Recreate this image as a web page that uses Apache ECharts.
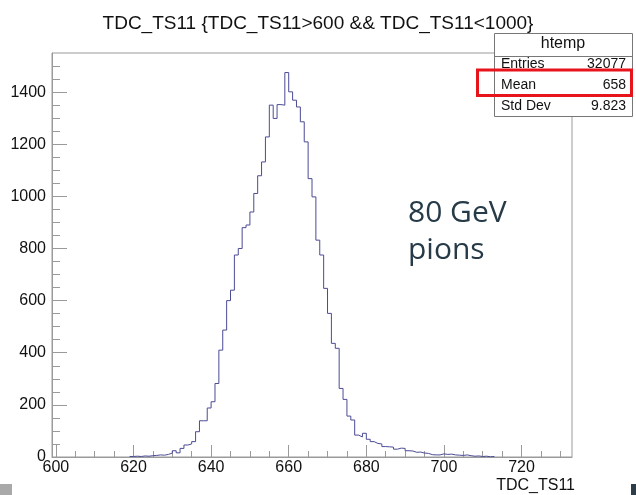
<!DOCTYPE html>
<html><head><meta charset="utf-8">
<script src="https://cdn.jsdelivr.net/npm/echarts@6/dist/echarts.min.js"></script>
<style>html,body{margin:0;padding:0;background:#fff}#c{width:636px;height:495px}</style>
</head><body><div id="c"></div>
<script>
const chartTitle = 'TDC_TS11 {TDC_TS11>600 && TDC_TS11<1000}';
const xAxisTitle = 'TDC_TS11';
const firstBin = 619;   // left edge of first listed bin, bin width 1
const counts = [
  2, 3, 2, 4, 3, 5, 6,                   // 619-625
  8, 7, 10, 15, 24, 16, 33, 46, 50, 59,  // 626-635
  97, 139, 139, 188, 212, 282, 410, 487, 600, 640, // 636-645
  775, 800, 880, 890, 940, 1011, 1079, 1132, 1228, 1350, // 646-655
  1299, 1352, 1350, 1475, 1401, 1369, 1343, 1286, 1209, 1068, // 656-665
  998, 832, 775, 647, 551, 436, 417, 263, 221, 157, // 666-675
  142, 84, 77, 91, 68, 59, 52, 50, 40, 39, // 676-685
  38, 30, 34, 33, 24, 23, 18, 19, 15, 14, // 686-695
  9, 8, 8, 12, 10, 11, 8, 7, 6, 8,        // 696-705
  5, 3, 4, 2, 3, 1, 2                     // 706-712
];
const xMajorTicks = [600, 620, 640, 660, 680, 700, 720];
const xMinorTicks = [600,605,610,615,620,625,630,635,640,645,650,655,660,665,670,675,680,685,690,695,700,705,710,715,720,725,730];
const yMajorTicks = [0, 200, 400, 600, 800, 1000, 1200, 1400];
const yMinorTicks = [0,50,100,150,200,250,300,350,400,450,500,550,600,650,700,750,800,850,900,950,1000,1050,1100,1150,1200,1250,1300,1350,1400,1450,1500];
const statsName = 'htemp';
const statsLabels = ['Entries', 'Mean', 'Std Dev'];
const statsValues = ['32077', '658', '9.823'];
const noteLines = ['80 GeV', 'pions'];

const stepData = counts.map((v, i) => [firstBin + i, v]);
stepData.push([firstBin + counts.length, counts[counts.length - 1]]);

const font = 'Liberation Sans, Arial, Helvetica, sans-serif';
const frameColor = '#9a9a9a';
const chart = echarts.init(document.getElementById('c'), null, {renderer: 'canvas'});
const plain = v => String(v);

const GL = 52, GT = 53, GW = 520, GH = 404;
chart.setOption({
  animation: false,
  backgroundColor: '#fff',
  title: {
    text: chartTitle, left: 'center', top: 9,
    textStyle: {fontFamily: font, fontSize: 19, fontWeight: 'normal', color: '#111'}
  },
  grid: {left: GL, top: GT, width: GW, height: GH, show: true, borderColor: frameColor, borderWidth: 1, backgroundColor: 'transparent'},
  xAxis: [{
    type: 'value', min: 599, max: 733, position: 'bottom',
    axisLine: {show: true, lineStyle: {color: frameColor, width: 1}},
    axisTick: {show: true, inside: true, length: 12, customValues: xMajorTicks, lineStyle: {color: frameColor}},
    axisLabel: {show: true, customValues: xMajorTicks, formatter: plain, margin: 3, fontFamily: font, fontSize: 16, color: '#111'},
    splitLine: {show: false}
  }, {
    type: 'value', min: 599, max: 733, position: 'bottom',
    axisLine: {show: false},
    axisTick: {show: true, inside: true, length: 6, customValues: xMinorTicks, lineStyle: {color: frameColor}},
    axisLabel: {show: false},
    splitLine: {show: false}
  }],
  yAxis: [{
    type: 'value', min: 0, max: 1550, position: 'left',
    axisLine: {show: true, lineStyle: {color: frameColor, width: 1}},
    axisTick: {show: true, inside: true, length: 15, customValues: yMajorTicks, lineStyle: {color: frameColor}},
    axisLabel: {show: true, customValues: yMajorTicks, formatter: plain, margin: 6, fontFamily: font, fontSize: 16, color: '#111'},
    splitLine: {show: false}
  }, {
    type: 'value', min: 0, max: 1550, position: 'left',
    axisLine: {show: false},
    axisTick: {show: true, inside: true, length: 8, customValues: yMinorTicks, lineStyle: {color: frameColor}},
    axisLabel: {show: false},
    splitLine: {show: false}
  }],
  series: [{
    type: 'line', step: 'end', data: stepData, showSymbol: false, symbol: 'none',
    xAxisIndex: 0, yAxisIndex: 0,
    lineStyle: {color: '#4b4b96', width: 1}, clip: true
  }],
  graphic: [
    {type: 'text', right: 636 - 575, top: 478, style: {text: xAxisTitle, font: '16px ' + font, fill: '#111', textAlign: 'right'}},
    // stats box
    {type: 'rect', shape: {x: 494.5, y: 33.5, width: 138, height: 83}, style: {fill: '#fff', stroke: '#777', lineWidth: 1}, z: 10},
    {type: 'line', shape: {x1: 494.5, y1: 56.5, x2: 632.5, y2: 56.5}, style: {stroke: '#777', lineWidth: 1}, z: 10},
    {type: 'text', x: 563, y: 44, style: {text: statsName, font: '16px ' + font, fill: '#111', textAlign: 'center', textVerticalAlign: 'middle'}, z: 11},
    {type: 'text', x: 501, y: 64.5, style: {text: statsLabels[0], font: '14px ' + font, fill: '#111', textVerticalAlign: 'middle'}, z: 11},
    {type: 'text', x: 626, y: 64.5, style: {text: statsValues[0], font: '14px ' + font, fill: '#111', textAlign: 'right', textVerticalAlign: 'middle'}, z: 11},
    {type: 'text', x: 501, y: 85, style: {text: statsLabels[1], font: '14px ' + font, fill: '#111', textVerticalAlign: 'middle'}, z: 11},
    {type: 'text', x: 626, y: 85, style: {text: statsValues[1], font: '14px ' + font, fill: '#111', textAlign: 'right', textVerticalAlign: 'middle'}, z: 11},
    {type: 'text', x: 501, y: 106, style: {text: statsLabels[2], font: '14px ' + font, fill: '#111', textVerticalAlign: 'middle'}, z: 11},
    {type: 'text', x: 626, y: 106, style: {text: statsValues[2], font: '14px ' + font, fill: '#111', textAlign: 'right', textVerticalAlign: 'middle'}, z: 11},
    // red highlight
    {type: 'rect', shape: {x: 477.5, y: 70, width: 154, height: 25.5}, style: {fill: 'none', stroke: '#e8141c', lineWidth: 3}, z: 12},
    // annotation
    {type: 'text', x: 408, y: 228, style: {text: noteLines[0], font: '30px "Open Sans", sans-serif', fill: '#263b47', textVerticalAlign: 'bottom'}, z: 11},
    {type: 'text', x: 408, y: 265, style: {text: noteLines[1], font: '30px "Open Sans", sans-serif', fill: '#263b47', textVerticalAlign: 'bottom'}, z: 11},
    // slide corner artifacts
    {type: 'rect', shape: {x: 0, y: 484, width: 12, height: 11}, style: {fill: '#a9a9a9'}},
    {type: 'rect', shape: {x: 631, y: 484, width: 5, height: 11}, style: {fill: '#2d3e4a'}}
  ]
});
</script></body></html>
